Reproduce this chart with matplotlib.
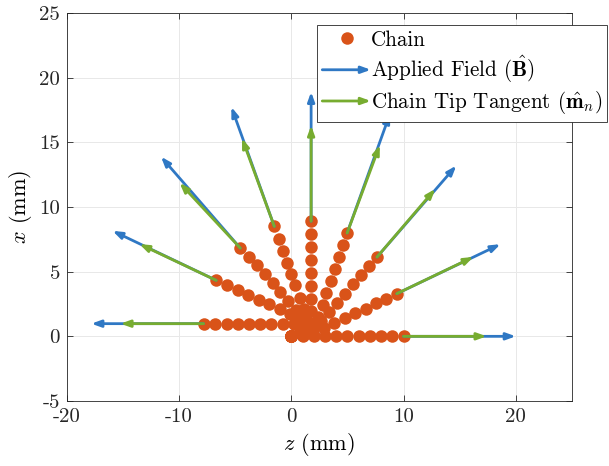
import numpy as np
import matplotlib
matplotlib.use('Agg')
import matplotlib.pyplot as plt
import matplotlib.patches as mpatches
from matplotlib.lines import Line2D
from matplotlib.legend_handler import HandlerPatch

# posiciones de las esferas de cada cadena (z, x) en mm
z_c1 = [0, 1, 2, 3, 4, 5, 6, 7, 8, 9, 10]
x_c1 = [0, 0, 0, 0, 0, 0, 0, 0, 0, 0, 0]
z_c2 = [0, 1.0, 1.97, 2.91, 3.84, 4.76, 5.69, 6.61, 7.53, 8.46, 9.40]
x_c2 = [0, 0.07, 0.28, 0.62, 1.00, 1.39, 1.77, 2.15, 2.54, 2.92, 3.30]
z_c3 = [0, 0.99, 1.90, 2.66, 3.37, 4.08, 4.79, 5.49, 6.20, 6.91, 7.63]
x_c3 = [0, 0.14, 0.55, 1.18, 1.89, 2.60, 3.30, 4.01, 4.72, 5.42, 6.13]
z_c4 = [0, 0.98, 1.82, 2.40, 2.78, 3.13, 3.50, 3.86, 4.22, 4.59, 4.97]
x_c4 = [0, 0.19, 0.72, 1.53, 2.45, 3.37, 4.30, 5.22, 6.14, 7.07, 7.99]
z_c5 = [0, 0.95, 1.60, 1.76, 1.76, 1.76, 1.76, 1.76, 1.76, 1.76, 1.76]
x_c5 = [0, 0.28, 1.02, 1.95, 2.90, 3.90, 4.90, 5.90, 6.90, 7.90, 8.90]
z_c6 = [0, 0.91, 1.37, 1.12, 0.74, 0.36, 0.0, -0.38, -0.78, -1.13, -1.52]
x_c6 = [0, 0.35, 1.21, 2.10, 3.00, 3.94, 4.80, 5.70, 6.60, 7.56, 8.50]
z_c7 = [0, 0.86, 1.00, 0.40, -0.30, -0.98, -1.67, -2.38, -3.06, -3.81, -4.55]
x_c7 = [0, 0.44, 1.35, 2.07, 2.75, 3.43, 4.12, 4.80, 5.49, 6.13, 6.82]
z_c8 = [0, 0.80, 0.72, -0.15, -1.04, -1.96, -2.92, -3.87, -4.79, -5.74, -6.70]
x_c8 = [0, 0.50, 1.35, 1.76, 2.09, 2.47, 2.84, 3.23, 3.61, 4.00, 4.33]
z_c9 = [0, 0.95, 0.20, -0.78, -1.79, -2.77, -3.75, -4.76, -5.74, -6.79, -7.83]
x_c9 = [0, 0.35, 0.98, 0.98, 0.98, 0.98, 0.98, 0.98, 0.98, 0.98, 0.98]

cadenas = [(z_c1, x_c1), (z_c2, x_c2), (z_c3, x_c3), (z_c4, x_c4), (z_c5, x_c5),
           (z_c6, x_c6), (z_c7, x_c7), (z_c8, x_c8), (z_c9, x_c9)]

# angulos (grados) del campo aplicado y de la tangente en la punta
ang_campo = [0, 22.5, 45, 67.5, 90, 112.5, 135, 157.5, 180]
ang_tangente = [0, 22.6, 45.4, 66.8, 90, 112.9, 137, 157.7, 180]
largo_campo = 10.0
largo_tangente = 7.4

xticks = [-20, -10, 0, 10, 20]
xticklabels = ['-20', '-10', '0', '10', '20']
yticks = [-5, 0, 5, 10, 15, 20, 25]
yticklabels = ['-5', '0', '5', '10', '15', '20', '25']

naranja = '#D95319'
azul = '#2F78C4'
verde = '#77AC30'

plt.rcParams['font.family'] = 'serif'
plt.rcParams['font.serif'] = ['cmr10']
plt.rcParams['mathtext.fontset'] = 'cm'
plt.rcParams['axes.unicode_minus'] = False

fig = plt.figure(figsize=(6.09, 4.66), dpi=100)
ax = fig.add_axes([0.110, 0.1395, 0.829, 0.8325])

for z, x in cadenas:
    ax.plot(z, x, 'o', color=naranja, ms=9, mec=naranja, mew=0, zorder=3)

estilo = '-|>,head_length=0.55,head_width=0.2'
for (z, x), a in zip(cadenas, ang_campo):
    t = np.deg2rad(a)
    p = mpatches.FancyArrowPatch((z[-1], x[-1]),
                                 (z[-1] + largo_campo*np.cos(t), x[-1] + largo_campo*np.sin(t)),
                                 arrowstyle=estilo, mutation_scale=10, lw=2,
                                 color=azul, shrinkA=0, shrinkB=0, zorder=4)
    ax.add_patch(p)
for (z, x), a in zip(cadenas, ang_tangente):
    t = np.deg2rad(a)
    p = mpatches.FancyArrowPatch((z[-1], x[-1]),
                                 (z[-1] + largo_tangente*np.cos(t), x[-1] + largo_tangente*np.sin(t)),
                                 arrowstyle=estilo, mutation_scale=10, lw=2,
                                 color=verde, shrinkA=0, shrinkB=0, zorder=5)
    ax.add_patch(p)

ax.set_xlim(-20, 25)
ax.set_ylim(-5, 25)
ax.set_xticks(xticks)
ax.set_xticklabels(xticklabels)
ax.set_yticks(yticks)
ax.set_yticklabels(yticklabels)
ax.tick_params(direction='in', top=True, right=True, length=4, width=0.6,
               labelsize=15, colors='#262626')
ax.tick_params(axis='x', pad=5)
ax.tick_params(axis='y', pad=5)
ax.grid(True, color='#e8e8e8', lw=0.7)
ax.set_axisbelow(True)
for s in ax.spines.values():
    s.set_color('#262626')
    s.set_linewidth(0.6)

ax.set_xlabel('$z$ (mm)', fontsize=16)
ax.set_ylabel('$x$ (mm)', fontsize=16)


def flecha(legend, orig_handle, xdescent, ydescent, width, height, fontsize):
    return mpatches.FancyArrowPatch((-xdescent, height/2), (width - xdescent, height/2),
                                    arrowstyle=estilo, mutation_scale=10, lw=2,
                                    shrinkA=0, shrinkB=0)


h_cadena = Line2D([], [], ls='none', marker='o', ms=9, color=naranja, mew=0)
h_campo = mpatches.FancyArrowPatch((0, 0), (1, 1), color=azul, lw=2)
h_tang = mpatches.FancyArrowPatch((0, 0), (1, 1), color=verde, lw=2)
leg = fig.legend([h_cadena, h_campo, h_tang],
                 ['Chain', r'Applied Field ($\hat{\mathbf{B}}$)',
                  r'Chain Tip Tangent ($\hat{\mathbf{m}}_n$)'],
                 handler_map={mpatches.FancyArrowPatch: HandlerPatch(patch_func=flecha)},
                 loc='upper left', bbox_to_anchor=(317/609, 1 - 25/466),
                 fontsize=15.2, handlelength=2.3, handletextpad=0.0, labelspacing=0.2,
                 borderpad=0.25, borderaxespad=0, fancybox=False, framealpha=1,
                 edgecolor='#262626')
leg.get_frame().set_linewidth(0.6)

plt.savefig('out.png', dpi=100)
